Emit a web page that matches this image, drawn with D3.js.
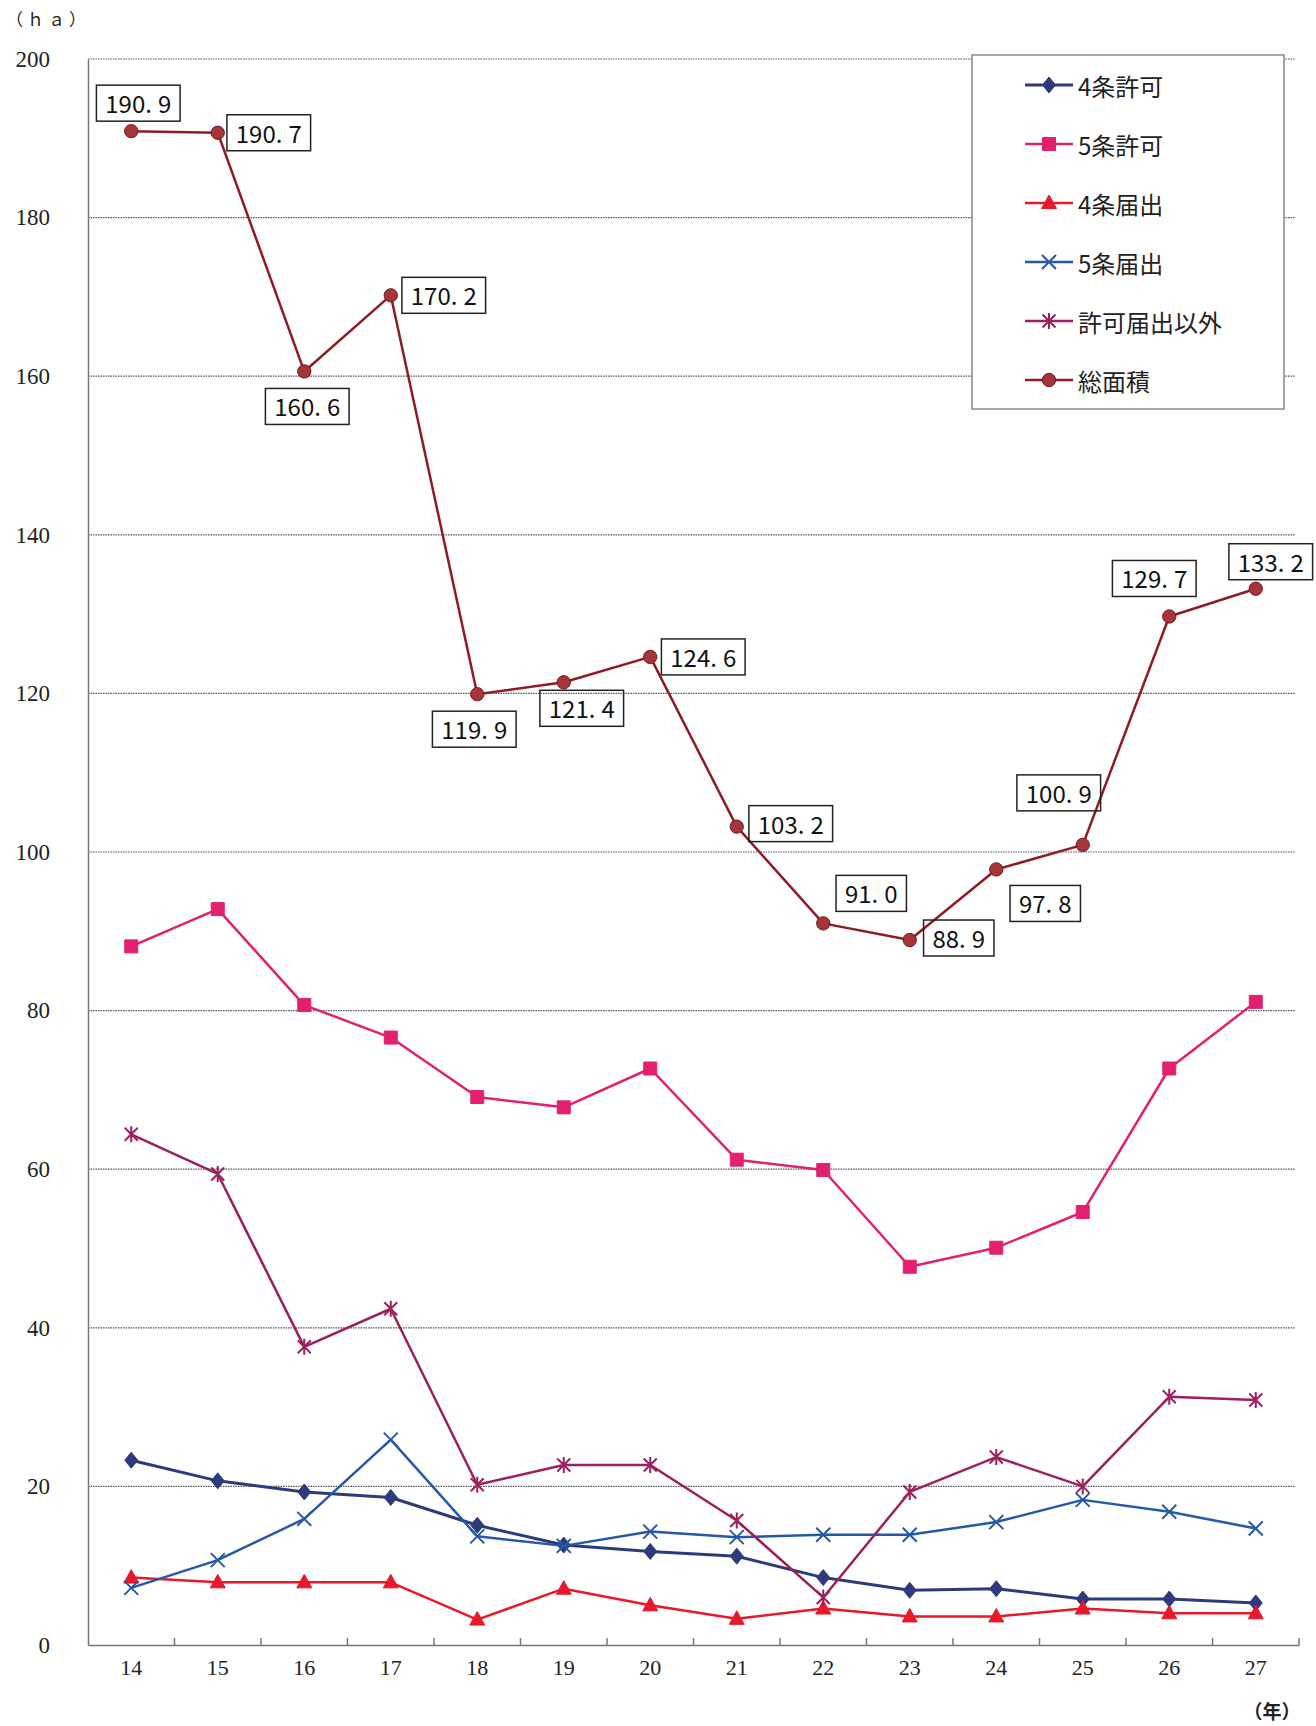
<!DOCTYPE html>
<html>
<head>
<meta charset="utf-8">
<script src="https://cdn.jsdelivr.net/npm/d3@7"></script>
<style>
  html, body { margin: 0; padding: 0; background: #fff; }
  svg { display: block; }
</style>
</head>
<body>
<div id="chart"></div>
<script>
// ---- Data ----
const years = ["14","15","16","17","18","19","20","21","22","23","24","25","26","27"];
const yTicks = [0, 20, 40, 60, 80, 100, 120, 140, 160, 180, 200];
const seriesNames = ["4条許可", "5条許可", "4条届出", "5条届出", "許可届出以外", "総面積"];
const art4Permit = [23.3, 20.7, 19.3, 18.6, 15.1, 12.6, 11.8, 11.2, 8.5, 6.9, 7.1, 5.8, 5.8, 5.3];
const art5Permit = [88.1, 92.8, 80.7, 76.6, 69.1, 67.8, 72.7, 61.2, 59.9, 47.7, 50.1, 54.6, 72.7, 81.1];
const art4Notice = [8.5, 7.9, 7.9, 7.9, 3.2, 7.1, 5.0, 3.3, 4.6, 3.6, 3.6, 4.6, 4.0, 4.0];
const art5Notice = [7.2, 10.7, 15.9, 25.9, 13.7, 12.5, 14.3, 13.6, 13.9, 13.9, 15.5, 18.3, 16.8, 14.7];
const otherArea  = [64.4, 59.4, 37.6, 42.4, 20.2, 22.7, 22.7, 15.7, 6.0, 19.3, 23.7, 20.0, 31.3, 30.9];
const totalArea  = [190.9, 190.7, 160.6, 170.2, 119.9, 121.4, 124.6, 103.2, 91.0, 88.9, 97.8, 100.9, 129.7, 133.2];
const yUnit = "（ｈａ）";
const xUnit = "（年）";

// ---- Layout / style ----
const W = 1316, H = 1726;
const svg = d3.select("#chart").append("svg").attr("width", W).attr("height", H);
svg.append("rect").attr("width", W).attr("height", H).attr("fill", "#fff");

const x = d3.scaleBand().domain(years).range([88, 1299]);
const y = d3.scaleLinear().domain([0, 200]).range([1645, 59]);
const cx = d => x(d) + x.bandwidth() / 2;

// gridlines
svg.append("g").selectAll("line").data(yTicks.filter(t => t > 0)).join("line")
  .attr("x1", 88).attr("x2", 1295)
  .attr("y1", d => y(d)).attr("y2", d => y(d))
  .attr("stroke", "#555").attr("stroke-width", 1.2).attr("stroke-dasharray", "1.5,1");

// y axis
const yAxis = svg.append("g").attr("transform", "translate(88,0)")
  .call(d3.axisLeft(y).tickValues(yTicks).tickSize(0).tickPadding(38));
yAxis.select(".domain").attr("stroke", "#777").attr("stroke-width", 1.5);
yAxis.selectAll("text").attr("font-family", "'Liberation Serif', serif").attr("font-size", 23).attr("fill", "#222");

// x axis
const xAxis = svg.append("g").attr("transform", "translate(0,1645)")
  .call(d3.axisBottom(x).tickSize(0).tickPadding(14));
xAxis.select(".domain").attr("stroke", "#777").attr("stroke-width", 1.5);
xAxis.selectAll("text").attr("font-family", "'Liberation Serif', serif").attr("font-size", 22).attr("fill", "#222");
// boundary ticks (pointing up)
svg.append("g").selectAll("line").data(years).join("line")
  .attr("x1", d => x(d) + x.bandwidth()).attr("x2", d => x(d) + x.bandwidth())
  .attr("y1", 1645).attr("y2", 1638)
  .attr("stroke", "#777").attr("stroke-width", 1.5);

// units
svg.append("text").attr("x", 48).attr("y", 26).attr("text-anchor", "middle")
  .attr("font-family", "'Noto Sans CJK JP', sans-serif").attr("font-size", 17).attr("fill", "#222")
  .attr("letter-spacing", 4).text(yUnit);
svg.append("text").attr("x", 1272).attr("y", 1719).attr("text-anchor", "middle")
  .attr("font-family", "'Noto Sans CJK JP', sans-serif").attr("font-size", 19).attr("font-weight", 700).attr("fill", "#222")
  .text(xUnit);

// ---- markers ----
const markerPaths = {
  diamond: "M0,-8L6.5,0L0,8L-6.5,0Z",
  square: "M-6.5,-6.5H6.5V6.5H-6.5Z",
  triangle: "M0,-8L7.5,5.5L-7.5,5.5Z",
  cross: "M-7,-7L7,7M-7,7L7,-7",
  star: "M-6.5,-6.5L6.5,6.5M-6.5,6.5L6.5,-6.5M0,-8V8",
  circle: d3.symbol(d3.symbolCircle, 140)()
};

const series = [
  { name: seriesNames[0], values: art4Permit, color: "#2d3a7c", width: 3, marker: "diamond", fill: "#2d3a7c" },
  { name: seriesNames[1], values: art5Permit, color: "#e2206f", width: 2.5, marker: "square", fill: "#e2206f" },
  { name: seriesNames[2], values: art4Notice, color: "#e8192c", width: 2.5, marker: "triangle", fill: "#e8192c" },
  { name: seriesNames[3], values: art5Notice, color: "#2559a7", width: 2.5, marker: "cross", fill: "none" },
  { name: seriesNames[4], values: otherArea, color: "#9c1f5e", width: 2.5, marker: "star", fill: "none" },
  { name: seriesNames[5], values: totalArea, color: "#8e1c24", width: 2.5, marker: "circle", fill: "#a3363a" }
];

const line = d3.line().x(d => cx(d.year)).y(d => y(d.v));

function drawMarker(g, m, s) {
  const p = g.append("path").attr("d", markerPaths[m]);
  if (m === "cross" || m === "star") {
    p.attr("fill", "none").attr("stroke", s.color).attr("stroke-width", 2);
  } else {
    p.attr("fill", s.fill).attr("stroke", m === "circle" ? "#7a1a1f" : s.color).attr("stroke-width", 1);
  }
}

series.forEach(s => {
  const pts = years.map((yr, i) => ({ year: yr, v: s.values[i] }));
  const g = svg.append("g");
  g.append("path").datum(pts).attr("d", line)
    .attr("fill", "none").attr("stroke", s.color).attr("stroke-width", s.width).attr("stroke-linejoin", "round");
  g.selectAll("g.m").data(pts).join("g").attr("class", "m")
    .attr("transform", d => `translate(${cx(d.year)},${y(d.v)})`)
    .each(function () { drawMarker(d3.select(this), s.marker, s); });
});

// ---- total value labels ----
const labelOffsets = [[7,-28],[51,0],[3,35],[53,0],[-3,35],[18,26],[53,0],[54,-3],[48,-30],[49,-2],[49,34],[-24,-52],[-15,-38],[15,-27]];
const lg = svg.append("g");
totalArea.forEach((v, i) => {
  const px = cx(years[i]), py = y(v);
  const [dx, dy] = labelOffsets[i];
  const t = d3.format(".1f")(v);
  const parts = t.split(".");
  const w = parts[0].length * 13.3 + 6.5 + 6 + 13.3 + 18, h = 36;
  const bx = px + dx, by = py + dy;
  lg.append("rect").attr("x", bx - w / 2).attr("y", by - h / 2).attr("width", w).attr("height", h)
    .attr("fill", "none").attr("stroke", "#222").attr("stroke-width", 1.5);
  const txt = lg.append("text").attr("x", bx).attr("y", by - 1).attr("text-anchor", "middle").attr("dominant-baseline", "central")
    .attr("font-family", "'Noto Sans CJK JP', sans-serif").attr("font-size", 24).attr("fill", "#111");
  txt.append("tspan").text(parts[0] + ".");
  txt.append("tspan").attr("dx", 6).text(parts[1]);
});

// ---- legend ----
const leg = svg.append("g");
leg.append("rect").attr("x", 972).attr("y", 55).attr("width", 312).attr("height", 354)
  .attr("fill", "#fff").attr("stroke", "#888").attr("stroke-width", 1.5);
const legY = d3.scalePoint().domain(seriesNames).range([85, 380]);
series.forEach(s => {
  const ly = legY(s.name);
  const g = leg.append("g");
  g.append("line").attr("x1", 1025).attr("x2", 1073).attr("y1", ly).attr("y2", ly)
    .attr("stroke", s.color).attr("stroke-width", s.width);
  const mg = g.append("g").attr("transform", `translate(1049,${ly})`);
  drawMarker(mg, s.marker, s);
  g.append("text").attr("x", 1078).attr("y", ly).attr("dominant-baseline", "central")
    .attr("font-family", "'Noto Sans CJK JP', sans-serif").attr("font-size", 24).attr("fill", "#222").text(s.name);
});
</script>
</body>
</html>
